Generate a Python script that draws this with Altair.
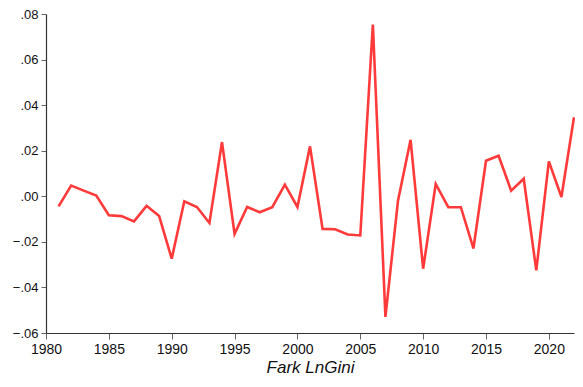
import altair as alt
import pandas as pd

years = list(range(1981, 2023))
values = [-0.0044, 0.0047, 0.0025, 0.0003, -0.0083, -0.0087, -0.0110, -0.0042, -0.0087, -0.0274,
          -0.0022, -0.0047, -0.0117, 0.0238, -0.0165, -0.0047, -0.0070, -0.0048, 0.0051, -0.0047,
          0.0219, -0.0143, -0.0145, -0.0168, -0.0172, 0.0754, -0.0529, -0.0019, 0.0248, -0.0318,
          0.0054, -0.0048, -0.0048, -0.0229, 0.0156, 0.0178, 0.0025, 0.0077, -0.0325, 0.0153,
          -0.0003, 0.0347]
x_ticks = [1980, 1985, 1990, 1995, 2000, 2005, 2010, 2015, 2020]
y_ticks = [-0.06, -0.04, -0.02, 0.0, 0.02, 0.04, 0.06, 0.08]

df = pd.DataFrame({"year": years, "value": values})

chart = alt.Chart(df).mark_line(color="#ff3a3a", strokeWidth=2.6).encode(
    x=alt.X("year:Q",
            scale=alt.Scale(domain=[1980, 2022], nice=False, zero=False),
            axis=alt.Axis(values=x_ticks, format="d", title="Fark LnGini",
                          titleFontStyle="italic", titleFontWeight="normal",
                          titleFontSize=17, titlePadding=3, labelPadding=3,
                          labelFontSize=14, tickSize=6, grid=False,
                          labelFlush=False, labelOverlap=False)),
    y=alt.Y("value:Q",
            scale=alt.Scale(domain=[-0.06, 0.08], nice=False),
            axis=alt.Axis(values=y_ticks, title=None, grid=False,
                          labelExpr="replace(format(datum.value, '.2f'), '0.', '.')",
                          labelFontSize=13, tickSize=5, labelPadding=3,
                          labelFlush=False, labelOverlap=False)),
).properties(
    width=528, height=319,
    autosize=alt.AutoSizeParams(type="none"),
    padding={"left": 38, "top": 6, "right": 1, "bottom": 46},
).configure_view(stroke=None).configure_axis(
    labelFont="Liberation Sans", titleFont="Liberation Sans",
    domainColor="#333333", tickColor="#666666", labelColor="#111111", titleColor="#111111",
    domainWidth=1.2,
)

chart.save("out.html", embed_options={"renderer": "svg", "actions": False})
